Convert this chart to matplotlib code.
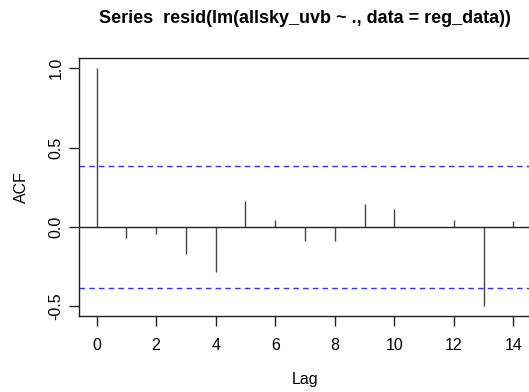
import numpy as np
import matplotlib.pyplot as plt

plt.rcParams["font.family"] = ["Liberation Sans", "DejaVu Sans"]

lags = list(range(15))
acf_values = [1.0, -0.071, -0.044, -0.172, -0.287, 0.164, 0.044, -0.088,
              -0.088, 0.145, 0.113, 0.0, 0.044, -0.497, 0.038]
conf_limit = 0.384
x_ticks = [0, 2, 4, 6, 8, 10, 12, 14]
y_ticks = [-0.5, 0.0, 0.5, 1.0]

fig = plt.figure(figsize=(5.29, 3.92), dpi=100)
ax = fig.add_axes([0.1493, 0.1939, 0.855, 0.658])

ax.vlines(lags, 0, acf_values, color="#444444", linewidth=1.0)
ax.axhline(0, color="#222222", linewidth=1.0)
ax.axhline(conf_limit, color="#3333ff", linestyle=(0, (4, 3)), linewidth=1.0)
ax.axhline(-conf_limit, color="#3333ff", linestyle=(0, (4, 3)), linewidth=1.0)

ax.set_xlim(-0.59, 14.6)
ax.set_ylim(-0.563, 1.065)
ax.set_xticks(x_ticks)
ax.set_yticks(y_ticks)
ax.set_yticklabels(["-0.5", "0.0", "0.5", "1.0"], rotation=90, va="center")
ax.tick_params(length=7, width=1.0, color="#222222", labelsize=11.5)
ax.tick_params(axis="x", pad=9)
ax.tick_params(axis="y", pad=4)

for spine in ax.spines.values():
    spine.set_color("#222222")
    spine.set_linewidth(1.0)

ax.set_xlabel("Lag", fontsize=11.5, va="center")
ax.xaxis.set_label_coords(0.5, -0.248)
ax.set_ylabel("ACF", fontsize=11.5, va="center")
ax.yaxis.set_label_coords(-0.128, 0.5)
fig.text(0.577, 0.953, "Series  resid(lm(allsky_uvb ~ ., data = reg_data))",
         ha="center", va="center", fontsize=13, fontweight="bold")

fig.savefig("out.png", dpi=100)
